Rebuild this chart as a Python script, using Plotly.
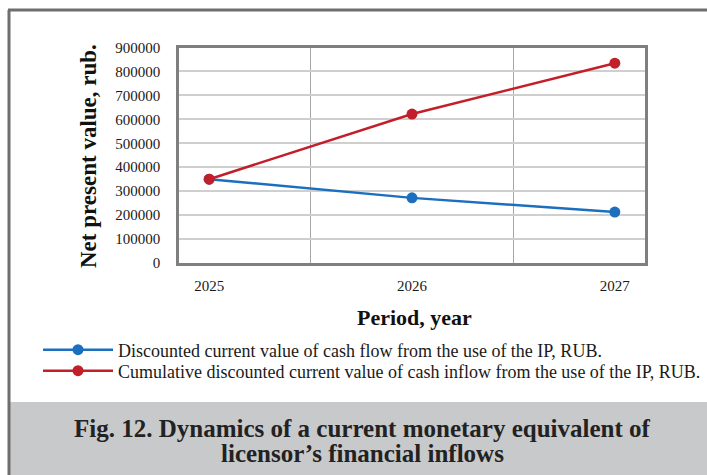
import plotly.graph_objects as go

# Data
years = ["2025", "2026", "2027"]
discounted_flow = [350000, 272000, 212500]
cumulative_inflow = [350000, 622000, 834500]
series_names = [
    "Discounted current value of cash flow from the use of the IP, RUB.",
    "Cumulative discounted current value of cash inflow from the use of the IP, RUB.",
]
caption_lines = [
    "Fig. 12. Dynamics of a current monetary equivalent of",
    "licensor’s financial inflows",
]

W, H = 707, 475
FONT = "Liberation Serif"
BLUE = "#1c6fbf"
RED = "#c21f2b"


def px(x):
    return x / W


def py(y):
    return 1 - y / H


fig = go.Figure()
fig.add_trace(go.Scatter(
    x=years, y=discounted_flow, name=series_names[0], mode="lines+markers",
    line=dict(color=BLUE, width=2.5), marker=dict(size=11, color=BLUE),
    legend="legend",
))
fig.add_trace(go.Scatter(
    x=years, y=cumulative_inflow, name=series_names[1], mode="lines+markers",
    line=dict(color=RED, width=2.5), marker=dict(size=11, color=RED),
    legend="legend2",
))

legend_style = dict(
    xanchor="left", yanchor="middle", font=dict(size=18, family=FONT),
    itemwidth=70, bgcolor="rgba(0,0,0,0)", borderwidth=0,
)

fig.update_layout(
    width=W, height=H,
    margin=dict(l=0, r=0, t=0, b=0, autoexpand=False),
    paper_bgcolor="white", plot_bgcolor="white",
    font=dict(family=FONT, color="#1a1a1a"),
    xaxis=dict(
        domain=[px(179), px(645)], type="category", tickson="boundaries",
        showgrid=True, gridcolor="#a6a6a6", gridwidth=1,
        showline=True, mirror=True, linecolor="#7f7f7f", linewidth=2.5,
        ticks="", tickfont=dict(size=15, family=FONT), ticklabelstandoff=7,
        automargin=False, fixedrange=True,
    ),
    yaxis=dict(
        domain=[py(263), py(47.5)], range=[0, 900000], dtick=100000,
        showgrid=True, gridcolor="#cfcfcf", gridwidth=1.5,
        showline=True, mirror=True, linecolor="#7f7f7f", linewidth=2.5,
        ticks="", tickfont=dict(size=15, family=FONT), tickformat="d",
        zeroline=False, ticklabelstandoff=13, automargin=False,
        fixedrange=True,
    ),
    legend=dict(x=px(38), y=py(350), **legend_style),
    legend2=dict(x=px(38), y=py(371), **legend_style),
    showlegend=True,
)

# Frame, caption panel
fig.add_shape(type="rect", xref="paper", yref="paper",
              x0=px(10), x1=1, y0=0, y1=py(402),
              fillcolor="#c8c9cb", line=dict(width=0), layer="below")
fig.add_shape(type="line", xref="paper", yref="paper",
              x0=px(8), x1=1, y0=py(10), y1=py(10),
              line=dict(color="#6e6e6e", width=3))
fig.add_shape(type="line", xref="paper", yref="paper",
              x0=px(9), x1=px(9), y0=0, y1=py(10),
              line=dict(color="#6e6e6e", width=3))

# Axis titles
fig.add_annotation(text="<b>Net present value, rub.</b>", xref="paper", yref="paper",
                   x=px(88), y=py(156), xanchor="center", yanchor="middle",
                   textangle=-90, showarrow=False,
                   font=dict(size=23, family=FONT, color="#111111"))
fig.add_annotation(text="<b>Period, year</b>", xref="paper", yref="paper",
                   x=px(415), y=py(317), xanchor="center", yanchor="middle",
                   showarrow=False,
                   font=dict(size=22, family=FONT, color="#111111"))

# Caption
for line_text, y_pos in zip(caption_lines, [428, 453]):
    fig.add_annotation(
        text=f"<b>{line_text}</b>", xref="paper", yref="paper",
        x=px(362), y=py(y_pos), xanchor="center", yanchor="middle",
        showarrow=False, font=dict(size=25, family=FONT, color="#222222"))

fig.write_html("out.html")
